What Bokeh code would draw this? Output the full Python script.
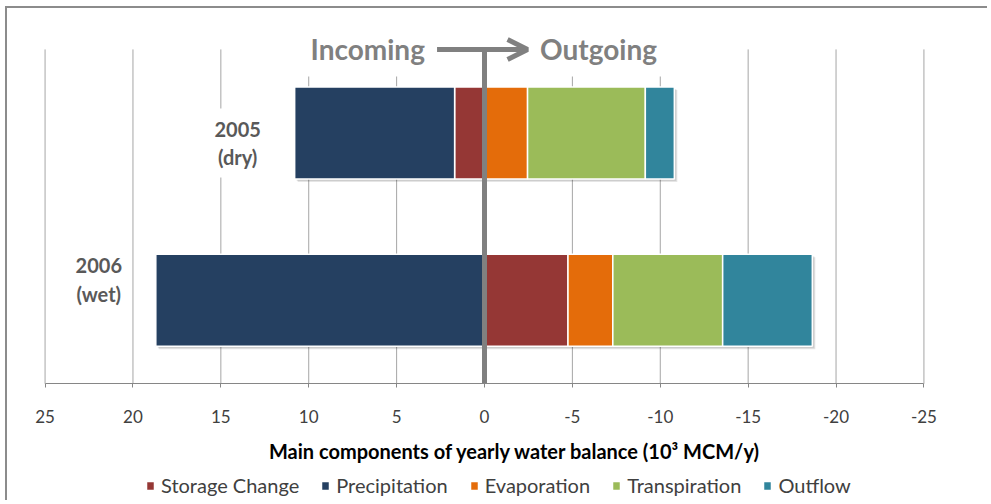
from bokeh.plotting import figure
from bokeh.models import (ColumnDataSource, Range1d, Arrow, OpenHead,
                          Label, Legend, LegendItem, FixedTicker)
from bokeh.core.properties import value
from bokeh.embed import file_html
from bokeh.resources import INLINE

# ---- data (10^3 MCM/y; positive = incoming, negative = outgoing) ----
years = ["2005", "2006"]
conditions = ["(dry)", "(wet)"]
series = ["Storage Change", "Precipitation", "Evaporation", "Transpiration", "Outflow"]
storage_change = [1.7, -4.75]
precipitation = [9.1, 18.7]
evaporation = [-2.45, -2.55]
transpiration = [-6.7, -6.25]
outflow = [-1.65, -5.1]
x_ticks = [25, 20, 15, 10, 5, 0, -5, -10, -15, -20, -25]
x_tick_labels = ["25", "20", "15", "10", "5", "0", "-5", "-10", "-15", "-20", "-25"]
x_title = "Main components of yearly water balance (10\u00b3 MCM/y)"

colors = ["#953735", "#254061", "#E46C0A", "#9BBB59", "#31859C"]
FONT = "Lato"
GREY = "#808080"

n = len(years)
y_pos = [n - 0.5 - i for i in range(n)]   # first year on top

W, H = 982, 494
BL, BR, BT, BB = 20, 48, 20, 0
X0, X1 = 26, -26
Y0, Y1 = -0.71, n + 0.125
p = figure(width=W, height=H, output_backend="svg", toolbar_location=None,
           x_range=Range1d(X0, X1), y_range=Range1d(Y0, Y1),
           min_border_left=BL, min_border_right=BR, min_border_top=BT, min_border_bottom=BB)
p.styles = {"margin-left": "5px", "margin-top": "6px",
            "border-left": "2px solid #8c8c8c", "border-top": "2px solid #8c8c8c"}
p.outline_line_color = None
p.xgrid.visible = False
p.ygrid.visible = False
p.yaxis.visible = False

# pixel -> data conversions for small screen-space offsets (shadow)
px_x = (X0 - X1) / (W - BL - BR)
px_y = (Y1 - Y0) / (H - BT - BB)

# ---- vertical grid lines (from the axis up to the Incoming/Outgoing header) ----
p.segment(x0=x_ticks, x1=x_ticks, y0=[0] * len(x_ticks), y1=[n] * len(x_ticks),
          line_color="#a6a6a6", line_width=1)

# ---- stacked bars ----
values = [storage_change, precipitation, evaporation, transpiration, outflow]
pos = [0.0] * n
neg = [0.0] * n
stacks = []
for vals in values:
    left, right = [], []
    for i, v in enumerate(vals):
        if v >= 0:
            left.append(pos[i]); right.append(pos[i] + v); pos[i] += v
        else:
            left.append(neg[i]); right.append(neg[i] + v); neg[i] += v
    stacks.append((left, right))

# soft drop shadow behind each whole bar
for k, a in ((3, 0.10), (2, 0.10)):
    p.hbar(y=[y - k * px_y for y in y_pos], left=[v - k * px_x for v in pos],
           right=[v - k * px_x for v in neg], height=0.55,
           fill_color="black", fill_alpha=a, line_color=None)

items = []
for name, (left, right), col in zip(series, stacks, colors):
    src = ColumnDataSource(dict(y=y_pos, left=left, right=right))
    r = p.hbar(y="y", left="left", right="right", height=0.55, source=src,
               fill_color=col, line_color="white", line_width=1.5)
    items.append(LegendItem(label=name, renderers=[r]))

# ---- zero line (incoming | outgoing divider) ----
p.segment(x0=[0], x1=[0], y0=[0], y1=[n], line_color=GREY, line_width=5)

# ---- year labels next to the incoming end of each bar ----
label_dy = {"2005": 10, "2006": -21}
for i, yr in enumerate(years):
    s = ColumnDataSource(dict(x=[pos[i]], y=[y_pos[i]], t=[yr + "\n" + conditions[i]]))
    p.text(x="x", y="y", text="t", source=s, x_offset=-57, y_offset=label_dy[yr],
           text_align="center", text_baseline="middle", text_font=value(FONT),
           text_font_style="bold", text_font_size="20px", text_color="#595959",
           text_line_height=1.2, background_fill_color="white", padding=8)

# ---- x axis, fixed at zero ----
ticker = FixedTicker(ticks=x_ticks)
p.xaxis.fixed_location = 0
p.xaxis.bounds = (min(x_ticks), max(x_ticks))
p.xaxis.ticker = ticker
p.xaxis.major_label_overrides = {t: l for t, l in zip(x_ticks, x_tick_labels)}
p.xaxis.major_label_text_font = FONT
p.xaxis.major_label_text_font_size = "17px"
p.xaxis.major_label_text_color = "#404040"
p.xaxis.major_label_standoff = 22
p.xaxis.axis_line_color = "#868686"
p.xaxis.major_tick_line_color = "#868686"
p.xaxis.major_tick_out = 4
p.xaxis.major_tick_in = 0
p.xaxis.minor_tick_line_color = None

# ---- x title ----
p.add_layout(Label(x=-1.74, y=-0.4, text=x_title, text_align="center", text_baseline="middle",
                   text_font=FONT, text_font_size="20px", text_font_style="bold",
                   text_color="#000000"))

# ---- Incoming -> Outgoing header ----
p.add_layout(Label(x=2.82, y=n, text="Incoming", text_align="right", text_baseline="middle",
                   text_font=FONT, text_font_size="28px", text_font_style="bold",
                   text_color=GREY, background_fill_color="white", padding=10))
p.add_layout(Label(x=-2.59, y=n, text="Outgoing", text_align="left", text_baseline="middle",
                   text_font=FONT, text_font_size="28px", text_font_style="bold",
                   text_color=GREY, background_fill_color="white", padding=10))
p.add_layout(Arrow(x_start=2.7, y_start=n, x_end=-2.45, y_end=n, line_color=GREY,
                   line_width=5, end=OpenHead(size=20, line_color=GREY, line_width=5)))

# ---- legend ----
legend = Legend(items=items, orientation="horizontal", location=(118, 5),
                border_line_color=None, background_fill_alpha=0, padding=0, margin=0,
                label_text_font=FONT, label_text_font_size="20px", label_text_color="#404040",
                glyph_width=10, glyph_height=11, label_standoff=6, spacing=21)
p.add_layout(legend, "center")

open("out.html", "w").write(file_html(p, INLINE))
